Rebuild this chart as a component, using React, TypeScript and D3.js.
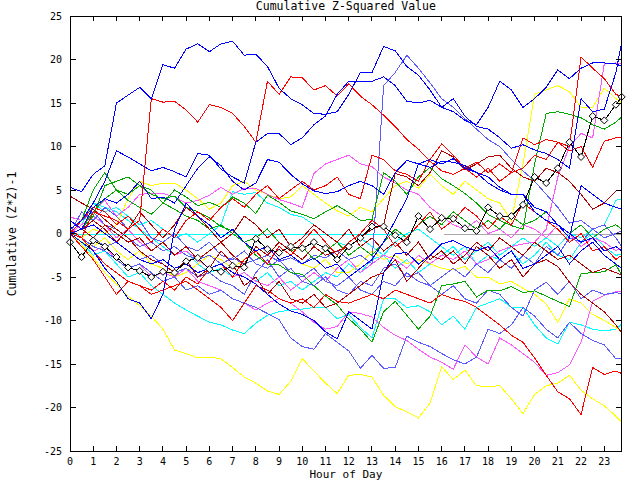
import React from "react";
import * as d3 from "d3";

// Half-hour sampling grid (hours), last point is 23:45
const HOURS = [0,0.5,1,1.5,2,2.5,3,3.5,4,4.5,5,5.5,6,6.5,7,7.5,8,8.5,9,9.5,10,10.5,11,11.5,12,12.5,13,13.5,14,14.5,15,15.5,16,16.5,17,17.5,18,18.5,19,19.5,20,20.5,21,21.5,22,22.5,23,23.5,23.75];
const X_TICKS = d3.range(0, 24);
const Y_TICKS = [-25,-20,-15,-10,-5,0,5,10,15,20,25];

const BLUE_A = [5.3,4.8,6.8,7.8,15.0,15.9,16.8,15.5, 19.4,19.0,21.2,21.8,20.9,21.8,22.1,20.5, 20.6,19.2,16.7,15.5,14.8,13.8,13.7,14.0, 16.0,18.5,18.5,21.5,21.0,19.2,18.2,16.5, 14.5,15.5,13.5,12.3,12.0,11.0,9.8,10.2, 9.6,9.2,8.5,7.5,15.5,14.0,14.3,18.5, 22.0];
const BLUE_B = [0.5,1.5,3.5,6.0,9.5,8.8,8.0,7.2, 7.6,7.1,6.5,9.2,9.0,7.4,6.5,5.8, 10.5,11.5,11.5,10.2,11.0,12.5,13.5,16.0, 17.5,17.5,17.5,18.0,17.0,15.2,15.0,15.3, 14.5,14.0,13.0,12.5,14.5,17.5,16.5,14.5, 15.5,16.8,18.8,17.8,19.0,19.6,19.6,19.5, 19.2];
const BLUE_C = [0.0,-1.0,-2.0,-4.0,-5.5,-7.5,-8.0,-9.8, -7.0,0.5,3.5,2.0,1.0,-0.5,0.5,-1.0, -2.0,-1.5,-3.0,-2.5,-3.5,-2.8,-4.0,-3.5, -5.0,-4.0,-3.0,-1.0,1.5,4.0,8.0,8.5, 8.0,8.6,7.5,7.0,6.5,5.3,4.5,4.5, 3.0,2.5,1.0,0.0,-1.0,-0.5,-2.0,-1.5, -2.0];
const BLUE_D = [1.5,0.5,3.0,4.0,3.5,4.5,6.0,4.0, 4.2,3.5,5.5,7.5,8.8,7.8,6.0,5.0, 5.8,8.5,8.2,6.8,5.7,4.9,4.6,4.8, 5.5,6.0,5.5,4.5,7.0,8.4,8.0,7.6, 8.3,8.2,7.8,7.0,5.8,5.0,4.5,4.5, 2.5,1.5,1.0,-0.5,5.5,4.5,3.5,3.0, 2.8];
const BLUE_E = [0.0,0.5,1.0,0.0,-1.0,-2.0,-3.0,-3.5, -3.0,-4.0,-3.5,-4.5,-4.0,-3.5,-4.5,-5.0, -5.8,-7.0,-8.1,-8.9,-9.3,-10.0,-11.3,-12.1, -9.0,-10.0,-11.0,-4.5,-2.3,-2.2,-3.5,-2.5, -1.2,-0.8,-1.5,-2.0,-1.5,-3.0,-2.0,-4.0, -3.5,-2.5,-1.5,-3.5,-2.0,-1.0,-2.5,-3.5, -4.0];
const LBLUE_1 = [0.0,1.5,2.5,1.0,0.5,-0.5,-1.5,-1.0, -2.0,-1.5,-2.5,-3.0,-2.5,-3.5,-2.8,-3.5, -3.0,-2.5,-3.2,-2.8,-3.5,-2.5,-2.8,-2.0, -3.0,-2.5,-3.5,17.0,18.5,20.5,19.0,17.3, 15.5,14.5,13.2,12.0,10.8,10.0,8.5,7.2, 6.0,4.5,3.0,1.2,1.5,0.5,1.0,-0.5, -1.5];
const LBLUE_2 = [0.0,-0.5,-1.5,-2.0,-3.0,-4.0,-3.5,-4.5, -5.5,-5.0,-6.5,-6.0,-7.0,-6.5,-7.5,-8.0, -8.5,-9.2,-9.9,-12.0,-13.0,-13.3,-11.5,-12.5, -13.5,-15.5,-14.0,-15.5,-15.4,-11.8,-12.5,-13.0, -13.8,-14.5,-15.0,-14.2,-11.0,-11.5,-10.5,-8.5, -9.5,-11.0,-12.0,-10.2,-11.5,-12.3,-12.8,-14.4, -14.4];
const LBLUE_3 = [0.0,0.5,-0.5,-1.5,-1.0,-2.0,-3.0,-2.5, -3.5,-4.5,-4.0,-5.0,-4.5,-5.5,-6.0,-7.0, -4.5,-3.0,-5.0,-4.0,-5.5,-6.0,-5.0,-6.5, -7.0,-5.5,-6.0,-4.0,-3.5,-5.0,-4.5,-6.0, -7.0,-6.0,-7.5,-8.0,-6.5,-7.0,-8.5,-9.5, -6.5,-5.6,-7.0,-5.5,-7.5,-6.5,-7.0,-6.8, -6.9];
const LBLUE_4 = [0.0,2.5,1.5,3.0,2.0,0.5,1.5,-0.5, -1.0,0.0,-1.5,-2.0,-1.0,-2.5,-3.0,-2.0, -3.5,-4.0,-3.0,-4.5,-5.0,-4.0,-5.5,-6.0, -5.0,-6.5,-7.0,-5.5,-6.0,-4.5,-5.5,-6.0, -5.0,-4.0,-5.0,-3.5,-4.5,-3.0,-4.0,-2.5, -3.5,-1.5,-2.5,-0.5,-1.0,0.5,-0.5,0.0, 0.3];
const RED_1 = [0.5,-0.5,2.5,2.0,1.5,0.5,1.5,15.5, 15.1,15.2,14.2,12.8,14.8,14.5,13.8,12.3, 10.5,17.5,16.0,18.0,17.9,16.5,17.0,15.8, 17.2,15.8,14.8,13.6,12.3,10.8,9.7,8.3, 7.2,6.8,7.5,6.5,7.5,6.0,7.0,11.0, 10.2,10.8,10.5,10.0,20.3,19.0,17.8,16.0, 15.7];
const RED_2 = [0.0,1.5,3.0,2.5,1.0,2.0,0.5,-1.0, 0.5,-0.5,1.5,2.5,1.5,3.0,4.0,3.0, 4.5,5.5,4.0,5.0,6.0,5.0,5.5,6.5, 4.5,4.0,9.0,8.5,7.2,6.8,6.0,8.5, 10.3,9.0,7.5,8.2,7.0,8.0,7.0,7.5, 9.0,8.5,10.5,9.5,10.0,7.6,10.6,11.0, 11.1];
const RED_3 = [0.0,-0.5,-2.0,-3.5,-4.5,-5.5,-6.0,-7.0, -6.5,-6.0,-5.5,-6.5,-7.5,-8.5,-10.0,-8.0, -6.0,-6.5,-7.5,-8.0,-7.5,-8.5,-7.0,-7.8, -8.0,-7.5,-7.0,-7.5,-6.5,-7.0,-7.5,-8.0, -7.0,-7.5,-7.8,-8.5,-9.5,-10.5,-11.7,-12.5, -14.3,-16.3,-18.2,-19.0,-20.8,-15.4,-16.2,-15.8, -16.1];
const RED_4 = [0.0,-1.5,-3.0,-5.0,-7.0,-5.5,-6.0,-6.5, -5.5,-6.5,-5.0,-5.8,-4.0,-3.5,-5.0,-3.0, -2.0,-3.5,-1.5,-2.5,-1.0,0.5,-1.0,-2.5, -1.0,0.0,1.5,0.5,-1.5,-0.5,1.0,2.5, 0.5,1.5,3.0,2.0,0.5,2.0,1.0,3.5, 2.5,1.5,0.5,-1.0,0.0,-2.0,-1.5,-3.0, -2.5];
const DRED_1 = [4.3,3.5,2.8,1.6,0.5,-0.5,-2.0,-3.0, -3.5,-4.5,-3.0,-5.0,-4.0,-2.0,-3.5,-6.0, -5.0,-7.0,-5.5,-7.5,-8.0,-7.0,-8.5,-8.0, -7.0,-6.0,-5.0,-4.5,-3.0,-5.5,-4.0,-2.5, -3.0,-2.0,-3.5,-1.5,-2.5,-4.0,-3.0,-5.0, -3.5,-3.0,-3.8,-5.6,-7.0,-8.0,-9.0,-10.5, -11.4];
const DRED_2 = [0.0,0.5,-0.5,1.0,0.0,-1.0,-0.5,-2.0, -1.0,-2.5,-1.5,-3.0,-2.0,-1.0,-2.5,-3.5, -1.5,-2.5,-1.0,-2.0,-3.0,-1.5,-2.5,-2.0, -1.5,-0.5,0.5,1.0,6.9,6.5,5.5,7.0, 9.5,8.8,7.3,8.0,8.8,9.0,7.5,6.5, 6.0,7.5,7.0,6.0,4.5,2.8,3.5,4.9, 5.0];
const DRED_3 = [0.0,0.5,1.5,0.5,-1.0,0.5,2.5,1.0, -0.5,1.0,3.0,2.0,0.5,-1.0,0.0,2.0, 1.0,-0.5,0.5,-1.5,-0.5,1.0,0.0,-1.0, 0.5,-1.5,-0.5,-2.0,-1.0,-2.5,-1.0,-3.0, -2.0,-3.5,-2.5,-1.0,-2.0,-0.5,-1.5,-2.5, -1.0,-2.0,-3.0,-2.5,-3.5,-4.5,-4.0,-4.5, -4.8];
const GREEN_1 = [0.0,1.5,5.0,7.0,5.0,3.8,3.0,2.2, 3.5,5.0,4.2,3.2,3.6,3.0,4.2,3.5, 2.3,4.4,3.6,2.6,2.2,1.7,2.5,3.2, 2.4,1.5,1.6,7.0,6.0,4.5,6.5,7.6, 6.3,5.5,4.6,3.5,2.2,1.5,0.9,0.5, 8.0,13.8,14.0,13.7,13.3,12.5,12.0,12.8, 13.4];
const GREEN_2 = [0.0,0.5,2.0,5.5,6.0,6.5,5.5,4.5, 4.0,4.3,3.0,2.5,1.8,0.8,0.3,-1.0, -2.5,-3.5,-3.6,-4.5,-4.7,-6.0,-7.2,-8.2, -9.8,-11.0,-12.5,-9.0,-7.8,-9.4,-11.0,-9.5, -6.0,-5.8,-5.5,-7.3,-6.5,-6.6,-6.1,-6.8, -6.6,-7.2,-7.8,-8.4,-4.6,-4.5,-4.4,-3.6, -4.8];
const GREEN_3 = [0.0,0.5,2.5,4.0,5.0,4.5,5.5,5.0, 3.5,2.8,2.0,1.5,0.5,1.0,0.0,-1.0, -0.5,0.5,-1.0,-2.0,-1.5,-3.0,-2.0,-1.0, -2.5,-1.5,-2.5,-1.0,0.5,-0.5,1.0,2.0, 1.0,2.5,1.5,0.5,1.5,0.5,2.0,1.0, 1.5,2.5,1.0,0.0,1.0,-0.5,0.5,1.0, 0.5];
const YELLOW_1 = [0.0,-0.5,0.5,0.0,1.0,4.0,6.0,5.5, 5.8,5.8,5.0,4.0,2.8,3.5,5.5,6.0, 5.0,4.5,4.0,4.2,5.5,4.5,3.5,2.6, 2.0,3.0,2.5,4.0,5.5,6.0,5.2,6.8, 5.5,4.5,6.0,5.0,4.0,3.5,1.5,8.0, 16.0,16.5,17.0,16.3,14.5,14.5,16.7,15.5, 15.0];
const YELLOW_2 = [0.0,-1.0,-1.5,-0.5,-2.0,-3.0,-2.0,-3.5, -4.0,-5.0,-4.5,-3.5,-2.5,-3.0,-4.0,-3.0, -2.0,-1.5,-3.0,-2.5,-3.5,-4.0,-3.0,-4.5, -4.5,-3.5,-2.0,-3.0,-2.5,-3.5,-3.0,-3.5, -4.0,-4.2,-3.8,-5.0,-5.0,-5.8,-5.5,-6.3, -7.0,-8.1,-10.2,-7.5,-8.0,-9.3,-10.0,-10.8, -11.3];
const YELLOW_3 = [0.0,-1.3,-2.8,-4.5,-5.8,-7.2,-8.3,-9.5, -11.0,-13.4,-13.8,-14.3,-14.2,-14.4,-15.4,-16.5, -17.2,-18.1,-18.5,-17.0,-14.4,-15.8,-17.2,-18.4, -16.3,-16.2,-16.5,-18.6,-19.9,-20.5,-21.2,-19.5, -15.3,-16.8,-15.7,-17.5,-17.6,-17.5,-19.0,-20.7, -18.5,-17.5,-17.2,-16.3,-18.0,-19.0,-19.8,-21.0, -21.7];
const MAGENTA_1 = [0.0,1.0,2.0,1.0,-0.5,0.5,-1.0,-2.0, -1.0,-2.5,-2.0,-3.0,-4.0,-3.5,-5.0,-4.5, -5.5,-6.0,-5.0,-6.5,-5.5,-4.5,-5.5,-4.0, -3.0,-4.5,-3.5,-2.5,-3.0,-4.0,-2.5,-3.5, -2.5,-3.0,-2.0,-3.5,-3.0,-2.0,-1.5,-1.2, -1.0,0.5,6.5,10.0,11.5,11.0,19.5,19.6, 19.5];
const MAGENTA_2 = [1.9,1.5,2.5,3.8,2.0,3.0,4.5,4.6, 4.6,4.2,3.5,3.8,4.4,5.3,4.5,5.2, 5.2,4.5,3.9,3.5,3.0,6.9,8.0,8.5, 9.0,8.0,7.7,6.5,5.8,5.0,4.5,3.0, 2.0,1.0,0.5,1.5,0.0,0.5,-0.5,1.0, 0.5,-0.5,1.0,0.0,-1.5,-0.5,-1.0,-2.0, -1.5];
const MAGENTA_3 = [0.0,-1.0,-2.0,-1.5,-3.0,-4.0,-3.5,-5.0, -4.5,-5.0,-4.0,-5.5,-6.0,-6.5,-7.5,-8.0, -8.8,-8.0,-7.5,-8.0,-9.0,-10.2,-11.0,-10.7, -9.0,-9.2,-9.6,-10.8,-11.7,-12.3,-13.3,-14.2, -14.8,-15.6,-12.8,-14.2,-15.0,-12.0,-12.8,-13.8, -14.8,-16.3,-16.0,-15.1,-12.5,-7.8,-7.1,-6.7, -6.7];
const CYAN_1 = [0.0,-1.0,-2.5,-2.0,-3.5,-5.0,-4.5,-6.0, -7.0,-8.0,-8.8,-9.5,-10.2,-10.5,-11.1,-11.5, -10.3,-9.4,-9.0,-8.8,-8.7,-8.5,-8.5,-9.8, -9.3,-10.8,-12.0,-7.5,-7.5,-8.5,-8.3,-9.0, -10.5,-9.5,-11.0,-8.5,-8.0,-7.5,-8.5,-8.5, -10.5,-12.0,-12.7,-10.2,-10.5,-11.0,-11.2,-11.0, -10.4];
const CYAN_2 = [0.0,1.0,3.5,2.5,3.0,2.0,1.0,1.5, 0.5,-0.5,0.0,-1.0,0.0,1.0,4.8,4.5, 4.7,3.5,3.0,2.2,1.9,1.0,0.0,-1.0, -1.5,-0.5,-1.5,-2.5,-1.0,0.0,0.5,-0.5, -1.5,-2.5,-1.5,-3.5,-2.5,-3.0,-2.0,-3.5, -2.5,-1.0,-2.5,-3.0,-1.0,0.0,-1.5,-2.5, -2.4];
const CYAN_3 = [0.0,1.5,3.5,3.0,2.5,1.5,0.5,-0.5, -1.5,-2.5,-2.0,-3.5,-4.5,-4.0,-5.0,-4.5, -5.5,-4.5,-6.0,-5.5,-6.5,-5.5,-4.5,-5.0, -3.5,-4.5,-3.0,-2.5,-4.0,-3.0,-4.5,-3.5, -2.5,-1.5,-3.0,-2.0,-1.0,-2.5,-1.5,-0.5, -1.5,-0.5,-1.5,0.0,-0.5,0.5,1.0,3.8, 4.0];
const BLACK = [-1.0,-2.7,-0.8,-1.5,-2.7,-3.9,-4.3,-5.0, -4.4,-4.5,-3.2,-2.8,-4.1,-4.4,-3.7,-3.9, -0.6,-1.8,-2.2,-1.5,-1.7,-1.0,-1.7,-3.0, -1.5,-0.5,0.8,0.8,-0.2,-1.0,2.0,0.5, 1.8,1.7,0.6,0.3,3.0,2.0,2.0,3.3, 6.5,5.8,7.5,10.5,8.8,13.5,13.0,14.8, 15.7];

// Flat reference traces at zero
const CYAN_ZERO_HOURS = [0, 14.7];
const GRAY_ZERO_HOURS = [16.1, 23.75];

const BLUE = "#0000ff";
const LBLUE = "#5a5aff";
const RED = "#ff0000";
const DRED = "#b00000";
const GREEN = "#00a800";
const YELLOW = "#ffff00";
const MAGENTA = "#ff55ff";
const CYAN = "#00ffff";

const SERIES: { v: number[]; c: string }[] = [
  { v: CYAN_1, c: CYAN }, { v: CYAN_2, c: CYAN }, { v: CYAN_3, c: CYAN },
  { v: YELLOW_3, c: YELLOW }, { v: YELLOW_2, c: YELLOW }, { v: YELLOW_1, c: YELLOW },
  { v: MAGENTA_3, c: MAGENTA }, { v: MAGENTA_2, c: MAGENTA }, { v: MAGENTA_1, c: MAGENTA },
  { v: LBLUE_2, c: LBLUE }, { v: LBLUE_3, c: LBLUE }, { v: LBLUE_4, c: LBLUE }, { v: LBLUE_1, c: LBLUE },
  { v: GREEN_3, c: GREEN }, { v: GREEN_2, c: GREEN }, { v: GREEN_1, c: GREEN },
  { v: DRED_3, c: DRED }, { v: DRED_1, c: DRED }, { v: DRED_2, c: DRED },
  { v: RED_4, c: RED }, { v: RED_3, c: RED }, { v: RED_2, c: RED }, { v: RED_1, c: RED },
  { v: BLUE_E, c: BLUE }, { v: BLUE_D, c: BLUE }, { v: BLUE_C, c: BLUE }, { v: BLUE_B, c: BLUE }, { v: BLUE_A, c: BLUE },
];

const FONT = "'DejaVu Sans Mono', 'Liberation Mono', monospace";

export default function App() {
  const x = d3.scaleLinear().domain([0, 23.75]).range([70, 621.7]);
  const y = d3.scaleLinear().domain([-25, 25]).range([451, 16]);
  const line = d3.line<number>().x((_, i) => x(HOURS[i])).y((d) => y(d));
  const [x0, x1] = x.range();
  const [y0, y1] = y.range();
  const diamond = (cx: number, cy: number) => `M${cx},${cy - 3.5}L${cx + 3.5},${cy}L${cx},${cy + 3.5}L${cx - 3.5},${cy}Z`;

  return (
    <svg width={640} height={480} style={{ position: "absolute", left: 0, top: 0, background: "#fff" }}>
      <rect x={0} y={0} width={640} height={480} fill="#fff" />
      {/* zero traces */}
      <line x1={x(CYAN_ZERO_HOURS[0])} x2={x(CYAN_ZERO_HOURS[1])} y1={Math.round(y(0)) + 0.5} y2={Math.round(y(0)) + 0.5} stroke={CYAN} strokeWidth={1} />
      <line x1={x(GRAY_ZERO_HOURS[0])} x2={x(GRAY_ZERO_HOURS[1])} y1={Math.round(y(0)) + 0.5} y2={Math.round(y(0)) + 0.5} stroke="#a8a8a8" strokeWidth={1} />
      <g fill="none" strokeWidth={1} shapeRendering="crispEdges">
        {SERIES.map((s, i) => (
          <path key={i} d={line(s.v) || ""} stroke={s.c} />
        ))}
        <path d={line(BLACK) || ""} stroke="#000" />
      </g>
      <g>
        {BLACK.map((v, i) => (
          <path key={i} d={diamond(x(HOURS[i]), y(v))} fill="#fff" stroke="#000" strokeWidth={1} />
        ))}
      </g>
      {/* frame */}
      <rect x={x0} y={y1} width={x1 - x0} height={y0 - y1} fill="none" stroke="#000" strokeWidth={1} shapeRendering="crispEdges" />
      <g stroke="#000" strokeWidth={1} shapeRendering="crispEdges">
        {X_TICKS.map((t) => (
          <g key={t}>
            <line x1={x(t)} x2={x(t)} y1={y0} y2={y0 - 5} />
            <line x1={x(t)} x2={x(t)} y1={y1} y2={y1 + 5} />
          </g>
        ))}
        {Y_TICKS.map((t) => (
          <g key={t}>
            <line x1={x0} x2={x0 + 6} y1={y(t)} y2={y(t)} />
            <line x1={x1} x2={x1 - 6} y1={y(t)} y2={y(t)} />
          </g>
        ))}
      </g>
      <g fontFamily={FONT} fontSize={10} fill="#000">
        {X_TICKS.map((t) => (
          <text key={t} x={x(t)} y={464.5} textAnchor="middle">{t}</text>
        ))}
        {Y_TICKS.map((t) => (
          <text key={t} x={62} y={y(t) + 3.5} textAnchor="end">{t}</text>
        ))}
      </g>
      <text x={(x0 + x1) / 2} y={9.5} textAnchor="middle" fontFamily={FONT} fontSize={11.5}>Cumulative Z-Squared Value</text>
      <text x={(x0 + x1) / 2} y={477.5} textAnchor="middle" fontFamily={FONT} fontSize={11}>Hour of Day</text>
      <text transform={`translate(16,${234}) rotate(-90)`} textAnchor="middle" fontFamily={FONT} fontSize={11.5}>Cumulative (Z*Z)-1</text>
    </svg>
  );
}
